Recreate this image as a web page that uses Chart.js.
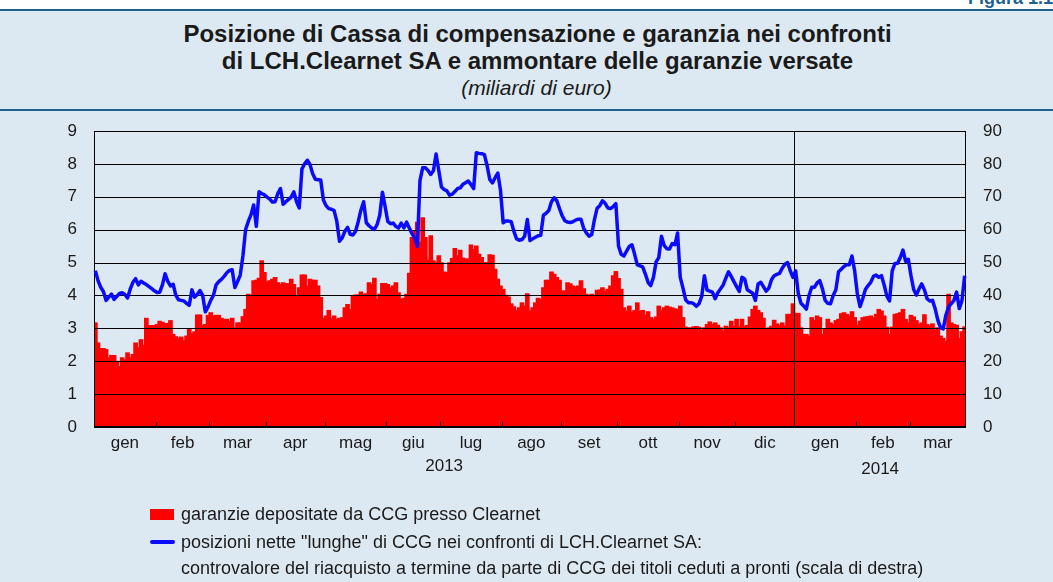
<!DOCTYPE html>
<html>
<head>
<meta charset="utf-8">
<script src="https://cdn.jsdelivr.net/npm/chart.js@4.4.1/dist/chart.umd.min.js"></script>
<style>
  html, body { margin: 0; padding: 0; }
  body { width: 1053px; height: 582px; overflow: hidden; position: relative; background: #fff;
         font-family: "Liberation Sans", Arial, sans-serif; color: #1a1a1a; }
  #panel { position: absolute; left: 0; top: 11px; width: 1053px; height: 571px; background: #dde9f2; }
  .rule { position: absolute; left: 0; width: 1053px; background: #1e6190; }
  .title { position: absolute; left: 11px; width: 1053px; text-align: center; font-weight: bold; font-size: 24px; line-height: 26px; }
  .sub { position: absolute; left: 10px; width: 1053px; text-align: center; font-style: italic; font-size: 21px; line-height: 22px; }
  #fig { position: absolute; left: 968px; top: -12px; font-weight: bold; font-size: 18px; color: #1e6190; white-space: nowrap; }
  #chart { position: absolute; left: 0; top: 0; }
  .leg { position: absolute; left: 181px; font-size: 18px; line-height: 20px; white-space: nowrap; }
  .swatch { position: absolute; left: 150px; }
</style>
</head>
<body>
<div id="panel"></div>
<div class="rule" style="top:9px;height:2px;"></div>
<div class="rule" style="top:109px;height:2px;"></div>
<div id="fig">Figura 1.1</div>
<div class="title" style="top:21px;">Posizione di Cassa di compensazione e garanzia nei confronti</div>
<div class="title" style="top:48px;">di LCH.Clearnet SA e ammontare delle garanzie versate</div>
<div class="sub" style="top:77px;">(miliardi di euro)</div>
<canvas id="chart" width="1053" height="582"></canvas>
<div class="swatch" style="top:509px;width:24px;height:11px;background:#ff0000;"></div>
<div class="leg" style="top:504px;">garanzie depositate da CCG presso Clearnet</div>
<div class="swatch" style="top:540px;width:25px;height:4px;background:#0a0aff;border-radius:2px;"></div>
<div class="leg" style="top:532px;">posizioni nette "lunghe" di CCG nei confronti di LCH.Clearnet SA:</div>
<div class="leg" style="top:558px;">controvalore del riacquisto a termine da parte di CCG dei titoli ceduti a pronti (scala di destra)</div>
<script>
// mesi e anni dell'asse orizzontale
const monthNames = ['gen', 'feb', 'mar', 'apr', 'mag', 'giu', 'lug', 'ago', 'set', 'ott', 'nov', 'dic'];
const firstDay = '2013-01-01';
const lastDay = '2014-03-31';

// garanzie depositate da CCG presso Clearnet (miliardi, scala di sinistra), un valore per giorno lavorativo
const garanzie = [
  3.15, 2.54, 2.37, 2.37, 2.34, 2.09, 2.16, 2.16, 1.98, 1.83,
  2.09, 2.03, 2.24, 2.09, 2.19, 2.54, 2.39, 2.64, 2.47, 3.29,
  3.07, 3.07, 3.07, 3.10, 3.20, 3.17, 3.13, 3.13, 3.22, 2.80,
  2.73, 2.68, 2.72, 2.61, 2.75, 2.95, 2.82, 2.88, 3.39, 3.39,
  3.07, 3.10, 3.38, 3.46, 3.36, 3.38, 3.38, 3.29, 3.26, 3.26,
  3.20, 3.29, 3.00, 3.15, 3.15, 3.34, 3.56, 4.02, 3.99, 4.43,
  4.45, 4.51, 5.04, 4.68, 4.40, 4.43, 4.48, 4.53, 4.37, 4.32,
  4.37, 4.34, 4.34, 4.48, 4.32, 3.97, 4.22, 4.61, 4.61, 4.27,
  4.48, 4.45, 4.45, 4.27, 3.92, 3.29, 3.36, 3.53, 3.29, 3.36,
  3.26, 3.29, 3.31, 3.61, 3.71, 3.56, 3.97, 4.00, 4.00, 4.09,
  4.02, 4.04, 4.37, 4.32, 4.51, 3.87, 4.02, 4.35, 4.35, 4.32,
  4.22, 4.27, 4.37, 4.07, 3.87, 3.90, 4.02, 4.66, 5.75, 5.95,
  6.21, 5.60, 6.35, 5.75, 5.06, 5.80, 5.04, 4.98, 5.19, 4.98,
  4.70, 4.68, 4.98, 5.11, 5.41, 5.19, 5.36, 5.12, 5.09, 5.09,
  5.52, 5.39, 5.49, 5.24, 5.14, 4.98, 4.98, 5.22, 5.21, 4.78,
  4.48, 4.27, 4.17, 3.99, 3.94, 3.73, 3.64, 3.53, 3.61, 3.76,
  3.66, 4.04, 3.51, 3.61, 3.76, 3.90, 3.87, 4.22, 4.45, 4.45,
  4.70, 4.63, 4.53, 4.45, 4.12, 4.12, 4.37, 4.34, 4.27, 4.24,
  4.27, 4.43, 4.19, 4.02, 3.97, 4.02, 3.97, 4.14, 4.15, 4.22,
  4.12, 4.17, 4.27, 4.58, 4.71, 4.50, 4.17, 3.61, 3.51, 3.66,
  3.48, 3.53, 3.76, 3.51, 3.53, 3.39, 3.49, 3.31, 3.26, 3.33,
  3.66, 3.53, 3.61, 3.66, 3.63, 3.61, 3.58, 3.56, 3.66, 3.31,
  3.02, 3.00, 3.00, 3.03, 3.04, 3.02, 2.92, 3.00, 3.10, 3.18,
  3.10, 3.15, 3.08, 3.00, 2.90, 3.05, 3.00, 3.20, 3.05, 3.26,
  3.03, 3.26, 3.05, 3.07, 3.33, 3.56, 3.66, 3.53, 3.46, 3.29,
  2.97, 3.00, 3.05, 3.23, 3.12, 3.08, 3.15, 3.05, 3.41, 3.41,
  3.73, 3.44, 3.44, 3.00, 2.80, 2.80, 2.75, 3.31, 3.22, 3.36,
  3.31, 2.80, 2.95, 3.26, 3.15, 3.10, 3.22, 3.26, 3.43, 3.46,
  3.41, 3.36, 3.49, 3.31, 3.08, 3.20, 3.31, 3.33, 3.34, 3.36,
  3.31, 3.41, 3.56, 3.51, 3.36, 3.02, 2.80, 3.02, 3.41, 3.43,
  3.46, 3.56, 3.26, 3.15, 3.38, 3.33, 3.22, 3.10, 3.15, 3.40,
  3.10, 3.05, 3.12, 2.92, 3.00, 2.75, 2.68, 2.59, 4.02, 3.15,
  3.10, 3.08, 2.68, 2.88, 3.03
];

// posizioni nette "lunghe" di CCG verso LCH.Clearnet SA (miliardi, scala di destra)
const posizioniLunghe = [
  47.5, 44.5, 42.5, 41.2, 38.5, 39.5, 40.4, 38.8, 39.7, 40.6,
  40.8, 40.3, 39.2, 41.9, 44.0, 45.1, 43.2, 44.3, 43.8, 43.3,
  42.7, 42.1, 41.4, 40.9, 41.0, 43.2, 46.6, 44.3, 42.9, 43.4,
  40.0, 38.7, 38.5, 38.3, 37.6, 37.0, 41.7, 39.5, 40.3, 41.5,
  40.0, 35.0, 36.5, 38.5, 40.0, 43.2, 44.2, 44.9, 45.8, 46.9,
  47.6, 47.8, 42.4, 44.2, 46.2, 52.0, 60.0, 62.5, 64.5, 67.5,
  61.0, 71.5, 71.0, 70.6, 69.9, 69.3, 68.4, 68.5, 71.0, 72.5,
  67.7, 68.5, 69.2, 69.9, 71.5, 68.5, 66.6, 78.5, 80.0, 81.1,
  79.8, 77.0, 75.3, 75.2, 75.1, 69.0, 67.3, 66.4, 66.2, 65.8,
  62.5, 56.5, 57.5, 59.5, 60.7, 58.6, 58.4, 59.5, 62.5, 66.0,
  68.5, 62.1, 61.2, 60.5, 60.1, 61.5, 64.4, 71.4, 67.0, 62.5,
  61.8, 62.0, 61.0, 60.5, 62.0, 60.5, 62.3, 60.5, 58.8, 57.5,
  54.9, 75.0, 78.8, 78.8, 78.0, 76.8, 77.9, 83.0, 78.0, 73.0,
  72.2, 71.8, 70.5, 70.8, 71.6, 72.5, 72.7, 73.8, 74.3, 74.8,
  73.7, 72.5, 83.4, 83.2, 83.1, 82.8, 79.5, 75.3, 74.2, 75.8,
  77.2, 72.0, 62.1, 62.6, 62.6, 62.4, 59.5, 57.2, 56.8, 57.0,
  58.0, 63.1, 56.7, 57.2, 57.7, 58.1, 58.3, 64.4, 65.0, 65.8,
  68.5, 69.7, 68.8, 66.4, 64.2, 62.7, 62.3, 62.2, 62.4, 62.9,
  63.2, 63.2, 60.4, 59.0, 58.0, 58.5, 63.0, 66.5, 67.3, 68.8,
  68.0, 66.6, 66.4, 67.0, 67.9, 55.0, 52.5, 52.0, 53.5, 54.9,
  55.4, 52.5, 49.3, 49.0, 48.7, 46.5, 44.0, 43.0, 45.5, 50.2,
  51.5, 58.0, 55.2, 54.2, 54.1, 55.8, 55.4, 59.0, 45.5, 42.3,
  38.7, 37.8, 37.8, 37.5, 36.7, 37.5, 39.7, 46.0, 41.6, 41.3,
  41.0, 39.0, 40.8, 42.0, 43.2, 45.3, 47.2, 45.8, 44.2, 42.7,
  41.2, 45.5, 45.0, 41.7, 41.2, 40.7, 38.5, 43.5, 44.0, 42.7,
  41.3, 42.2, 44.8, 46.0, 46.4, 46.7, 48.3, 49.5, 50.0, 47.5,
  45.5, 47.5, 40.5, 37.6, 36.8, 35.8, 40.0, 42.5, 42.5, 43.8,
  44.5, 42.0, 38.5, 37.6, 37.5, 40.0, 41.7, 47.2, 48.0, 48.8,
  49.3, 49.3, 52.0, 47.5, 40.5, 36.6, 39.0, 41.8, 43.0, 44.0,
  45.8, 46.2, 45.5, 46.0, 43.2, 39.8, 38.3, 47.5, 49.7, 49.8,
  51.5, 53.8, 50.4, 51.0, 46.0, 41.8, 40.1, 42.0, 43.5, 41.7,
  39.0, 38.3, 38.5, 36.0, 32.5, 30.2, 29.8, 34.0, 36.5, 37.5,
  38.5, 41.0, 36.0, 38.5, 46.0
];

// giorni lavorativi (lun-ven) fra la prima e l'ultima data
function businessDays(from, to) {
  const out = [];
  const d = new Date(from + 'T00:00:00');
  const end = new Date(to + 'T00:00:00');
  while (d <= end) {
    const wd = d.getDay();
    if (wd !== 0 && wd !== 6) {
      out.push(d.getFullYear() + '-' + String(d.getMonth() + 1).padStart(2, '0') + '-' + String(d.getDate()).padStart(2, '0'));
    }
    d.setDate(d.getDate() + 1);
  }
  return out;
}
const days = businessDays(firstDay, lastDay);

// indice del primo giorno di ogni mese
const monthStarts = [];
days.forEach((d, i) => {
  if (i === 0 || d.slice(0, 7) !== days[i - 1].slice(0, 7)) monthStarts.push(i);
});

const FONT = '"Liberation Sans", Arial, sans-serif';
Chart.defaults.font.family = FONT;
Chart.defaults.color = '#1a1a1a';

function boundaryX(xs, i) {
  if (i <= 0) return xs.chart.chartArea.left;
  if (i >= days.length) return xs.chart.chartArea.right;
  return (xs.getPixelForValue(i - 1) + xs.getPixelForValue(i)) / 2;
}

// griglia, tacche dei mesi e separatore d'anno sopra le barre, sotto la linea
const overlay = {
  id: 'overlay',
  afterDatasetDraw(chart, args) {
    if (args.index !== 0) return;
    const { ctx, chartArea: a, scales } = chart;
    ctx.save();
    ctx.strokeStyle = '#000';
    ctx.lineWidth = 1;
    ctx.beginPath();
    scales.y.ticks.forEach(t => {
      const y = Math.round(scales.y.getPixelForValue(t.value)) + 0.5;
      ctx.moveTo(a.left, y);
      ctx.lineTo(a.right, y);
    });
    monthStarts.forEach(i => {
      if (i === 0) return;
      const x = Math.round(boundaryX(scales.x, i)) + 0.5;
      const isYear = days[i].slice(5, 7) === '01';
      ctx.moveTo(x, a.bottom);
      ctx.lineTo(x, isYear ? a.top : a.bottom - 5);
    });
    ctx.stroke();
    ctx.strokeRect(Math.round(a.left) + 0.5, Math.round(a.top) + 0.5,
      Math.round(a.right - a.left) - 1, Math.round(a.bottom - a.top) - 1);
    ctx.restore();
  },
  afterDraw(chart) {
    const { ctx, chartArea: a, scales } = chart;
    ctx.save();
    ctx.fillStyle = '#1a1a1a';
    ctx.font = '17px ' + FONT;
    ctx.textAlign = 'center';
    ctx.textBaseline = 'middle';
    monthStarts.forEach((s, k) => {
      const e = k + 1 < monthStarts.length ? monthStarts[k + 1] : days.length;
      const x = (boundaryX(scales.x, s) + boundaryX(scales.x, e)) / 2;
      ctx.fillText(monthNames[Number(days[s].slice(5, 7)) - 1], x, a.bottom + 16);
    });
    // anni centrati sul proprio tratto
    const years = [...new Set(days.map(d => d.slice(0, 4)))];
    years.forEach((yr, k) => {
      const s = days.findIndex(d => d.startsWith(yr));
      const e = k + 1 < years.length ? days.findIndex(d => d.startsWith(years[k + 1])) : days.length;
      const x = (boundaryX(scales.x, s) + boundaryX(scales.x, e)) / 2;
      ctx.fillText(yr, x, a.bottom + (k === 0 ? 39 : 42));
    });
    ctx.restore();
  }
};

new Chart(document.getElementById('chart'), {
  type: 'bar',
  data: {
    labels: days,
    datasets: [
      {
        label: 'garanzie depositate da CCG presso Clearnet',
        data: garanzie,
        yAxisID: 'y',
        backgroundColor: '#ff0000',
        borderWidth: 0,
        inflateAmount: 1,
        barPercentage: 1,
        categoryPercentage: 1,
        order: 2
      },
      {
        type: 'line',
        label: 'posizioni nette "lunghe" di CCG nei confronti di LCH.Clearnet SA',
        data: posizioniLunghe,
        yAxisID: 'y2',
        borderColor: '#0a0aff',
        borderWidth: 3.5,
        pointRadius: 0,
        tension: 0,
        borderJoinStyle: 'round',
        order: 1
      }
    ]
  },
  options: {
    responsive: false,
    animation: false,
    devicePixelRatio: 1,
    layout: { padding: { top: 131, bottom: 155, left: 0, right: 0 } },
    plugins: { legend: { display: false }, tooltip: { enabled: false } },
    scales: {
      x: { type: 'category', display: false, offset: true },
      y: {
        position: 'left', min: 0, max: 9,
        ticks: { stepSize: 1, padding: 17, font: { size: 17 }, color: '#1a1a1a' },
        grid: { display: false, drawTicks: false },
        border: { display: false },
        afterFit(s) { s.width = 94; }
      },
      y2: {
        position: 'right', min: 0, max: 90,
        ticks: { stepSize: 10, padding: 17, font: { size: 17 }, color: '#1a1a1a' },
        grid: { display: false, drawTicks: false },
        border: { display: false },
        afterFit(s) { s.width = 87; }
      }
    }
  },
  plugins: [overlay]
});
</script>
</body>
</html>
